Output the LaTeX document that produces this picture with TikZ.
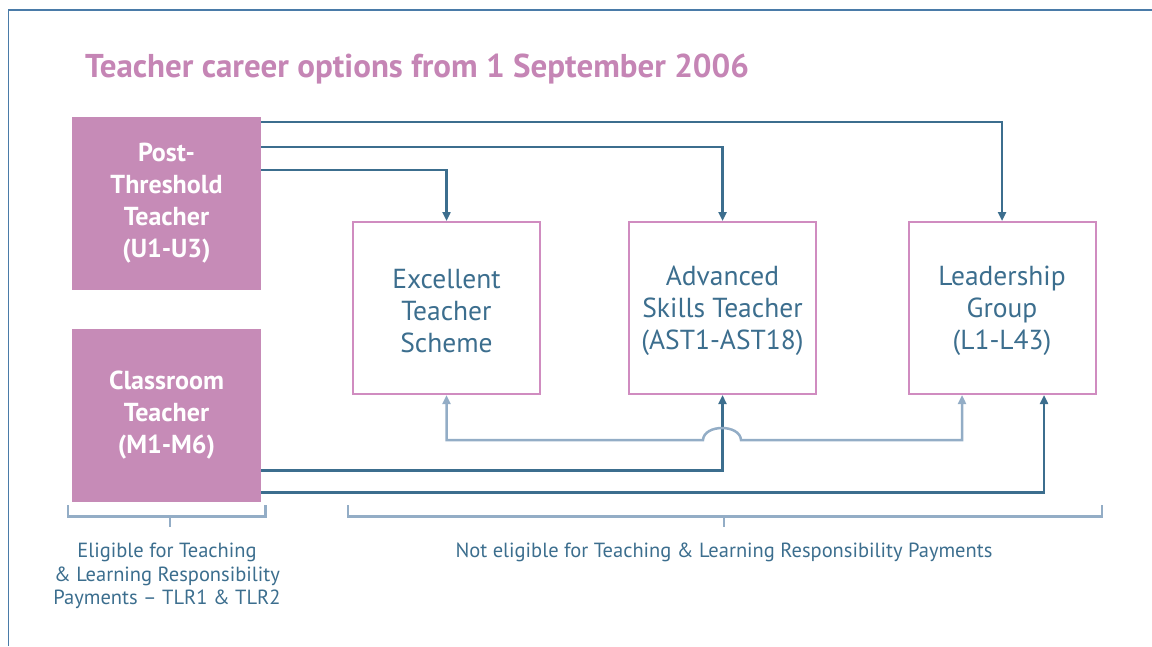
\documentclass[tikz,border=0pt]{standalone}
\usepackage{fontspec}
\setmainfont{PT Sans}
\usetikzlibrary{arrows.meta,calc}
\definecolor{pinkfill}{HTML}{C68BB7}
\definecolor{pinkline}{HTML}{D08CC0}
\definecolor{titlepink}{HTML}{C585B5}
\definecolor{darkblue}{HTML}{3C6E8E}
\definecolor{lightblue}{HTML}{93ADC6}
\definecolor{framecol}{HTML}{4A7BA8}
\tikzset{
  pinkbox/.style={fill=pinkfill, draw=none, minimum width=189pt, minimum height=173pt, inner sep=0pt,
    text=white, align=center, font=\bfseries\fontsize{26}{32}\selectfont},
  outbox/.style={draw=pinkline, line width=2pt, fill=white, minimum width=187pt, minimum height=172pt, inner sep=0pt},
  outtext/.style={text=darkblue, align=center, font=\fontsize{27.5}{32}\selectfont, inner sep=0pt, yshift=-3pt},
  darkarrow/.style={draw=darkblue, line width=2.5pt, -{Triangle[length=9pt,width=8pt]}},
  lightarrow/.style={draw=lightblue, line width=2.5pt, {Triangle[length=9pt,width=8pt]}-{Triangle[length=9pt,width=8pt]}},
  bracket/.style={draw=lightblue, line width=2.5pt},
  note/.style={text=darkblue, align=center, font=\fontsize{20.5}{23.5}\selectfont, inner sep=0pt}
}
\begin{document}
\begin{tikzpicture}[x=1pt,y=-1pt]
\useasboundingbox (0,0) rectangle (1152,646);
\draw[framecol, line width=1.5pt] (8.5,646) -- (8.5,10) -- (1152,10);
\node[anchor=base west, text=titlepink, font=\bfseries\fontsize{33}{38}\selectfont, inner sep=0pt] (title) at (85,77) {Teacher career options from 1 September 2006};

\node[pinkbox] (pt) at (166.5,203.5) {Post-\\Threshold\\Teacher\\(U1-U3)};
\node[pinkbox] (ct) at (166.5,415) {Classroom\\Teacher\\(M1-M6)};
\node[outbox, label={[outtext]center:{Excellent\\Teacher\\Scheme}}] (ets) at (446.5,308) {};
\node[outbox, label={[outtext]center:{Advanced\\Skills Teacher\\(AST1-AST18)}}] (ast) at (722.5,308) {};
\node[outbox, label={[outtext]center:{Leadership\\Group\\(L1-L43)}}] (lg) at (1002,308) {};

\draw[darkarrow] ([yshift=-5pt]pt.north east) -| (lg.north);
\draw[darkarrow] ([yshift=-30pt]pt.north east) -| (ast.north);
\draw[darkarrow] ([yshift=-53pt]pt.north east) -| (ets.north);
\draw[darkarrow] ([yshift=31pt]ct.south east) -| (ast.south);
\draw[darkarrow] ([yshift=9pt]ct.south east) -| ([xshift=42pt]lg.south);

\coordinate (b1) at (703,440);
\coordinate (b2) at (741,440);
\draw[lightarrow] (ets.south) |- (b1) .. controls (704,424) and (740,424) .. (b2) -| ([xshift=-40pt]lg.south);

\draw[bracket] (68,505) -- (68,516.5) -- (265.5,516.5) -- (265.5,505);
\draw[bracket] (170,516.5) -- (170,527);
\draw[bracket] (348,505) -- (348,516.5) -- (1102,516.5) -- (1102,505);
\draw[bracket] (724,516.5) -- (724,527);

\node[note, anchor=north] (n1) at (167,543) {Eligible for Teaching\\\& Learning Responsibility\\Payments – TLR1 \& TLR2};
\node[note, anchor=base] (n2) at (724,557) {Not eligible for Teaching \& Learning Responsibility Payments};
\end{tikzpicture}
\end{document}
